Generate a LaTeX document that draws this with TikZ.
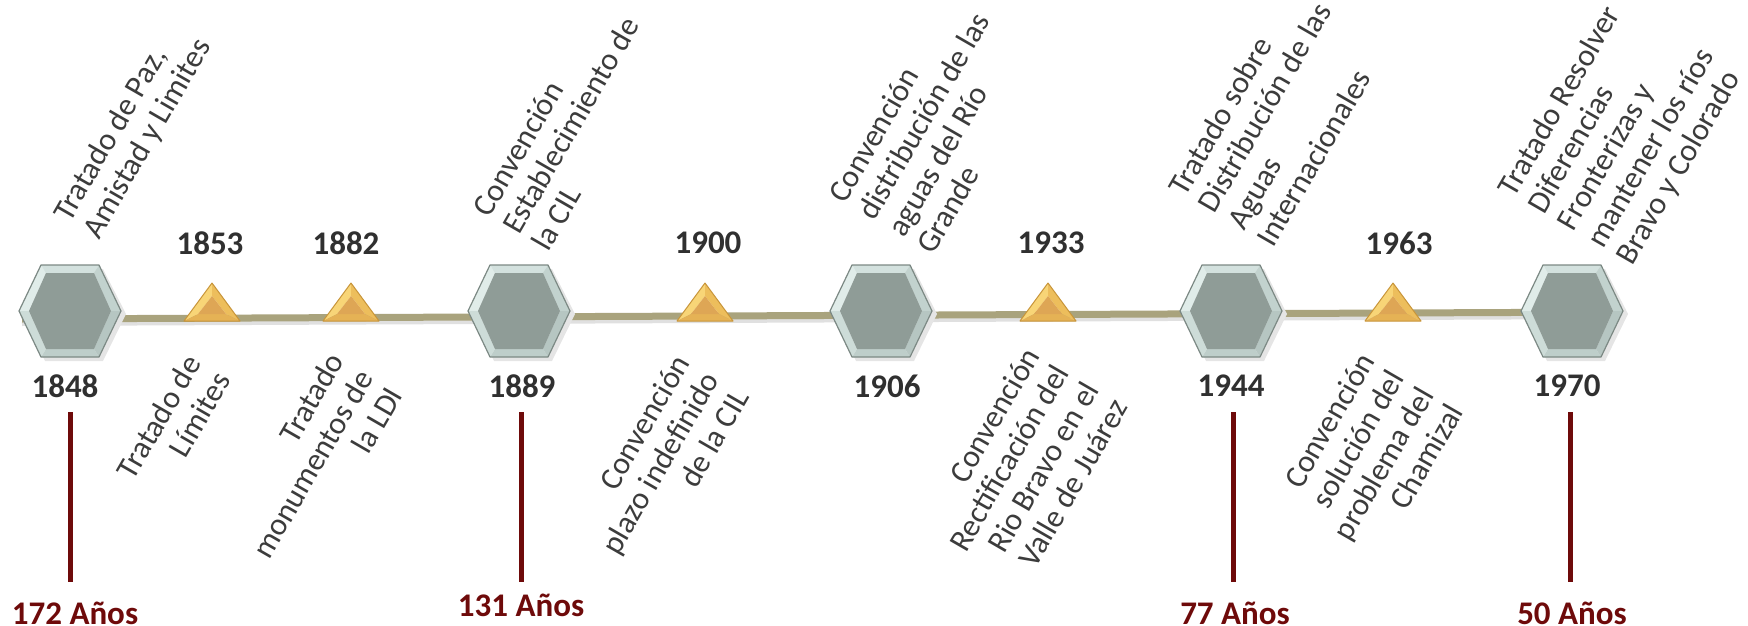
\documentclass[tikz,border=0pt]{standalone}
\usepackage{fontspec}
\setmainfont{Carlito}
\definecolor{txtgray}{HTML}{3C3C3C}
\definecolor{yeargray}{HTML}{303030}
\definecolor{maroon}{HTML}{6E0A0A}
\definecolor{linekhaki}{HTML}{A9A37D}
\definecolor{hexline}{HTML}{7C8984}
\definecolor{hexin}{HTML}{8F9C97}
\definecolor{triline}{HTML}{C8953A}
\definecolor{HexA}{HTML}{E0ECE9}
\definecolor{HexB}{HTML}{D3E1DE}
\definecolor{HexC}{HTML}{C2D2CE}
\definecolor{HexD}{HTML}{B6C6C2}
\definecolor{HexE}{HTML}{BECECA}
\definecolor{HexF}{HTML}{CDDCD8}
\definecolor{TriA}{HTML}{F8D577}
\definecolor{TriB}{HTML}{EDBE5C}
\definecolor{TriC}{HTML}{E5B255}
\definecolor{TriIn}{HTML}{DEA655}
\newcommand\hexat[2]{%
\begin{scope}[shift={(#1,#2)}]
 \fill[fill=black!10] (-47,3) -- (-25,-42) -- (33,-42) -- (56,3) -- (33,50) -- (-25,50) -- cycle;
 \fill[fill=HexA] (-51,0) -- (-29,-46) -- (-24,-38) -- (-41,0) -- cycle;
 \fill[fill=HexB] (-29,-46) -- (29,-46) -- (24,-38) -- (-24,-38) -- cycle;
 \fill[fill=HexC] (29,-46) -- (51,0) -- (41,0) -- (24,-38) -- cycle;
 \fill[fill=HexD] (51,0) -- (29,46) -- (24,38) -- (41,0) -- cycle;
 \fill[fill=HexE] (29,46) -- (-29,46) -- (-24,38) -- (24,38) -- cycle;
 \fill[fill=HexF] (-29,46) -- (-51,0) -- (-41,0) -- (-24,38) -- cycle;
 \fill[hexin] (-41,0) -- (-24,-38) -- (24,-38) -- (41,0) -- (24,38) -- (-24,38) -- cycle;
 \draw[hexline, line width=1.2pt, line join=round] (-51,0) -- (-29,-46) -- (29,-46) -- (51,0) -- (29,46) -- (-29,46) -- cycle;
\end{scope}}
\newcommand\triat[1]{%
\begin{scope}[shift={(#1,0)}]
 \fill[TriA] (-28,321) -- (0,283) -- (0,296) -- (-14,314) -- cycle;
 \fill[TriB] (0,283) -- (28,321) -- (14,314) -- (0,296) -- cycle;
 \fill[TriC] (28,321) -- (-28,321) -- (-14,314) -- (14,314) -- cycle;
 \fill[TriIn] (-14,314) -- (0,296) -- (14,314) -- cycle;
 \draw[triline, line width=1pt, line join=round] (-28,321) -- (0,283) -- (28,321) -- cycle;
\end{scope}}
\tikzset{
 toptxt/.style={rotate=60, anchor=south west, align=left, inner sep=0pt,
   font=\fontsize{31.5}{34}\selectfont, text=txtgray},
 bottxt/.style={rotate=60, anchor=north east, align=right, inner sep=0pt,
   font=\fontsize{31.5}{34}\selectfont, text=txtgray},
 year/.style={inner sep=0pt, font=\fontsize{33}{36}\selectfont\bfseries, text=yeargray},
 anos/.style={inner sep=0pt, font=\fontsize{33}{36}\selectfont\bfseries, text=maroon},
 redline/.style={draw=maroon, line width=5pt},
 axis/.style={draw=linekhaki, line width=7pt},
}
\begin{document}
\begin{tikzpicture}[x=1pt,y=-1pt]
\useasboundingbox (0,0) rectangle (1748,626);
% axis
\coordinate (axL) at (22,319);
\coordinate (axR) at (1625,312);
\draw[black!12, line width=4pt] ([yshift=-5pt]axL) -- ([yshift=-5pt]axR);
\draw[axis] (axL) -- (axR);
% hexagons
\hexat{70}{311}
\hexat{519}{311}
\hexat{881}{311}
\hexat{1231}{311}
\hexat{1572}{311}
% triangles
\triat{212}
\triat{351}
\triat{705}
\triat{1048}
\triat{1393}
% years above triangles
\node[year] (y1853) at (210,243) {1853};
\node[year] (y1882) at (346,243) {1882};
\node[year] (y1900) at (708,243) {1900};
\node[year] (y1933) at (1051,243) {1933};
\node[year] (y1963) at (1399,243) {1963};
% years below hexagons
\node[year] (y1848) at (65,386) {1848};
\node[year] (y1889) at (522,386) {1889};
\node[year] (y1906) at (887,386) {1906};
\node[year] (y1944) at (1231,386) {1944};
\node[year] (y1970) at (1567,386) {1970};
% top rotated texts
\node[toptxt] (t1848) at (104,243) {Tratado de Paz,\\Amistad y Limites};
\node[toptxt] (t1889) at (549,253) {Convención\\Establecimiento de\\la CIL};
\node[toptxt] (t1906) at (934,256) {Convención\\distribución de las\\aguas del Río\\Grande};
\node[toptxt] (t1944) at (1274,249) {Tratado sobre\\Distribución de las\\Aguas\\Internacionales};
\node[toptxt] (t1970) at (1637,269) {Tratado Resolver\\Diferencias\\Fronterizas y\\mantener los ríos\\Bravo y Colorado};
% bottom rotated texts
\node[bottxt] (b1853) at (183,352) {Tratado de\\Límites};
\node[bottxt] (b1882) at (326,350) {Tratado\\monumentos de\\la LDI};
\node[bottxt] (b1900) at (672,352) {Convención\\plazo indefinido\\de la CIL};
\node[bottxt] (b1933) at (1022,345) {Convención\\Rectificación del\\Rio Bravo en el\\Valle de Juárez};
\node[bottxt] (b1963) at (1357,350) {Convención\\solución del\\problema del\\Chamizal};
% red duration lines and labels
\node[anos] (a172) at (75,613) {172 Años};
\node[anos] (a131) at (521,605) {131 Años};
\node[anos] (a77) at (1235,613) {77 Años};
\node[anos] (a50) at (1572,613) {50 Años};
\coordinate (r1t) at (70,412);  \coordinate (r1b) at (70,582);
\coordinate (r2t) at (521,412); \coordinate (r2b) at (521,582);
\coordinate (r3t) at (1233,412); \coordinate (r3b) at (1233,582);
\coordinate (r4t) at (1570,412); \coordinate (r4b) at (1570,582);
\draw[redline] (r1t) -- (r1b);
\draw[redline] (r2t) -- (r2b);
\draw[redline] (r3t) -- (r3b);
\draw[redline] (r4t) -- (r4b);
\end{tikzpicture}
\end{document}
